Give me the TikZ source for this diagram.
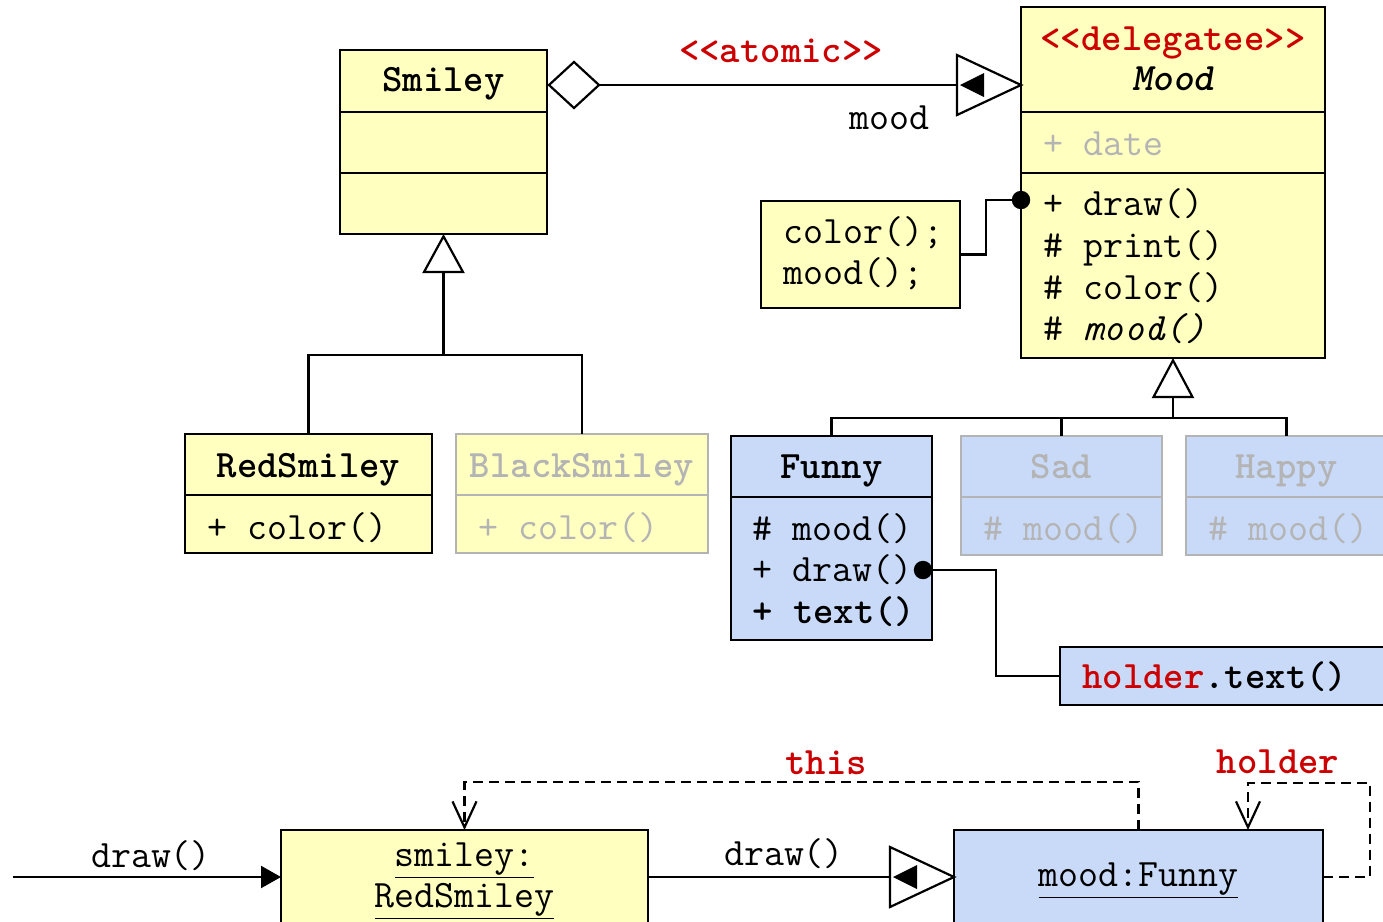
\documentclass[tikz,border=0pt]{standalone}
\usepackage{fontspec}
\usetikzlibrary{calc,arrows.meta}
\definecolor{umlyellow}{HTML}{FFFFC0}
\definecolor{umlblue}{HTML}{C9DAF8}
\definecolor{umlred}{HTML}{CC0000}
\definecolor{umlgray}{HTML}{B4B4B4}
\newcommand\umlfont{\fontsize{19.4}{23}\selectfont\ttfamily}
\def\navhead(#1){\draw[umlline, fill=white] ($(#1)+(-64,-30)$) -- (#1) -- ($(#1)+(-64,30)$) -- cycle; \fill ($(#1)+(-61,0)$) -- ($(#1)+(-37,-12)$) -- ($(#1)+(-37,12)$) -- cycle;}
\tikzset{
	classbox/.style={draw, line width=1.3pt, fill=umlyellow, inner sep=0pt, outer sep=0pt},
	objbox/.style={classbox, fill=umlblue},
	ghost/.style={draw=umlgray, text=umlgray},
	divider/.style={line width=1.3pt},
	umlline/.style={line width=1.1pt},
	depline/.style={line width=1.1pt, dash pattern=on 5pt off 3pt, -{Straight Barb[length=13pt, width=12pt]}},
	title/.style={anchor=base, inner sep=0pt, font=\umlfont\bfseries},
	member/.style={anchor=base west, inner sep=0pt, font=\umlfont},
	lbl/.style={anchor=base, inner sep=0pt, font=\umlfont},
	redlbl/.style={anchor=base, inner sep=0pt, font=\umlfont\bfseries, text=umlred},
}

\begin{document}
\begin{tikzpicture}[x=0.5pt, y=-0.5pt]
		%%%%% START %%%%%
		\useasboundingbox (0,0) rectangle (1383,922);
		
		% Smiley
		\node[classbox, minimum width=103.5pt, minimum height=92pt] (smiley) at (443.5,142) {};
		\draw[divider] (smiley.west |- 0,112) -- (smiley.east |- 0,112);
		\draw[divider] (smiley.west |- 0,173) -- (smiley.east |- 0,173);
		\node[title] (smileyT) at (443.5,91) {Smiley};
		
		% Mood
		\node[classbox, minimum width=152pt, minimum height=175.5pt] (mood) at (1173,182.5) {};
		\draw[divider] (mood.west |- 0,112) -- (mood.east |- 0,112);
		\draw[divider] (mood.west |- 0,173) -- (mood.east |- 0,173);
		\node[title, text=umlred] (moodS) at (1173,50) {<<delegatee>>};
		\node[title, font=\umlfont\bfseries\itshape] (moodT) at (1173,90) {Mood};
		\node[member, text=umlgray] (moodDate) at (1043,155) {+ date};
		\node[member] (moodDraw) at (1043,215) {+ draw()};
		\node[member] (moodPrint) at (1043,257) {\# print()};
		\node[member] (moodColor) at (1043,299) {\# color()};
		\node[member] (moodMood) at (1043,340) {\# {\itshape mood()}};
		
		% note
		\node[classbox, minimum width=99.5pt, minimum height=53.5pt] (note) at (860.5,254.5) {};
		\node[member] (noteA) at (783,243) {color();};
		\node[member] (noteB) at (783,284) {mood();};
		
		% association
		\coordinate (dia) at ($(smiley.north east)+(2,35)$);
		\draw[umlline, fill=white] (dia) -- ++(25,-23) -- ++(25,23) coordinate (diaR) -- ++(-25,23) -- cycle;
		\coordinate (moodIn) at (mood.west |- diaR);
		\draw[umlline] (diaR) -- (moodIn);
		\navhead(moodIn)
		\node[redlbl] (atomic) at (781,62) {<<atomic>>};
		\node[lbl, anchor=base east] (role) at (930,129) {mood};
		
		% note link
		\coordinate (drawDot) at (mood.west |- 0,200);
		\draw[umlline] (note.east) -- ++(26,0) |- (drawDot);
		\fill (drawDot) circle (4.6pt);
		
		% Smiley subclasses
		\node[classbox, minimum width=123.5pt, minimum height=59.5pt] (red) at (308.5,493.5) {};
		\draw[divider] (red.west |- 0,495) -- (red.east |- 0,495);
		\node[title] (redT) at (308.5,477) {RedSmiley};
		\node[member] (redColor) at (207,539) {+ color()};
		
		\node[classbox, ghost, minimum width=126pt, minimum height=59.5pt] (black) at (582,493.5) {};
		\draw[divider, umlgray] (black.west |- 0,495) -- (black.east |- 0,495);
		\node[title, text=umlgray] (blackT) at (582,477) {BlackSmiley};
		\node[member, text=umlgray] (blackColor) at (478,539) {+ color()};
		
		\draw[umlline] (red.north) |- (black.north |- 0,355) -- (black.north);
		\draw[umlline, -{Triangle[open, length=19.5pt, width=21pt]}] (smiley.south |- 0,355) -- (smiley.south);
		
		% Mood subclasses
		\node[objbox, minimum width=100.5pt, minimum height=102pt] (funny) at (831.5,538) {};
		\draw[divider] (funny.west |- 0,497) -- (funny.east |- 0,497);
		\node[title] (funnyT) at (831.5,478) {Funny};
		\node[member] (funnyMood) at (752,540) {\# mood()};
		\node[member] (funnyDraw) at (752,581) {+ draw()};
		\node[member, font=\umlfont\bfseries] (funnyText) at (752,623) {+ text()};
		
		\node[objbox, ghost, minimum width=100.5pt, minimum height=59.5pt] (sad) at (1061.5,495.5) {};
		\draw[divider, umlgray] (sad.west |- 0,497) -- (sad.east |- 0,497);
		\node[title, text=umlgray] (sadT) at (1061.5,478) {Sad};
		\node[member, text=umlgray] (sadMood) at (983,540) {\# mood()};
		
		\node[objbox, ghost, minimum width=100.5pt, minimum height=59.5pt] (happy) at (1286.5,495.5) {};
		\draw[divider, umlgray] (happy.west |- 0,497) -- (happy.east |- 0,497);
		\node[title, text=umlgray] (happyT) at (1286.5,478) {Happy};
		\node[member, text=umlgray] (happyMood) at (1208,540) {\# mood()};
		
		\draw[umlline] (funny.north) |- (happy.north |- 0,418) -- (happy.north);
		\draw[umlline] (sad.north) -- (sad.north |- 0,418);
		\draw[umlline, -{Triangle[open, length=20pt, width=21pt]}] (mood.south |- 0,418) -- (mood.south);
		
		% holder note
		\node[objbox, minimum width=170pt, minimum height=29pt] (holderNote) at (1230,676) {};
		\node[member, font=\umlfont\bfseries] (holderText) at (1082,688) {{\color{umlred}holder}.text()};
		\coordinate (textDot) at ($(funny.east |- 0,570)+(-9,0)$);
		\draw[umlline] (textDot) -- ++(73,0) |- (holderNote.west);
		\fill (textDot) circle (4.6pt);
		
		% objects
		\node[classbox, minimum width=183.5pt, minimum height=47pt] (objSmiley) at (464.5,877) {};
		\node[lbl] (objSmileyA) at (464.5,866) {\underline{smiley:}};
		\node[lbl] (objSmileyB) at (464.5,907) {\underline{RedSmiley}};
		\node[objbox, minimum width=184.5pt, minimum height=47pt] (objMood) at (1138.5,877) {};
		\node[lbl] (objMoodT) at (1138.5,886) {\underline{mood:Funny}};
		
		\coordinate (start) at (13,877);
		\draw[umlline, -{Triangle[length=10pt, width=11pt]}] (start) -- (objSmiley.west);
		\node[lbl] (callA) at (151,867) {draw()};
		\draw[umlline] (objSmiley.east) -- (objMood.west);
		\navhead(objMood.west)
		\node[lbl] (callB) at (784,865) {draw()};
		
		\draw[depline] (objMood.north) -- ++(0,-48) -| (objSmiley.north);
		\node[redlbl] (this) at (826,774) {this};
		\coordinate (loop) at (1370,783);
		\draw[depline] (objMood.east) -| (loop) -| ($(objMood.north west)+(294,0)$);
		\node[redlbl] (holder) at (1278,773) {holder};
		
		%%%%% END %%%%%
	\end{tikzpicture}
\end{document}
